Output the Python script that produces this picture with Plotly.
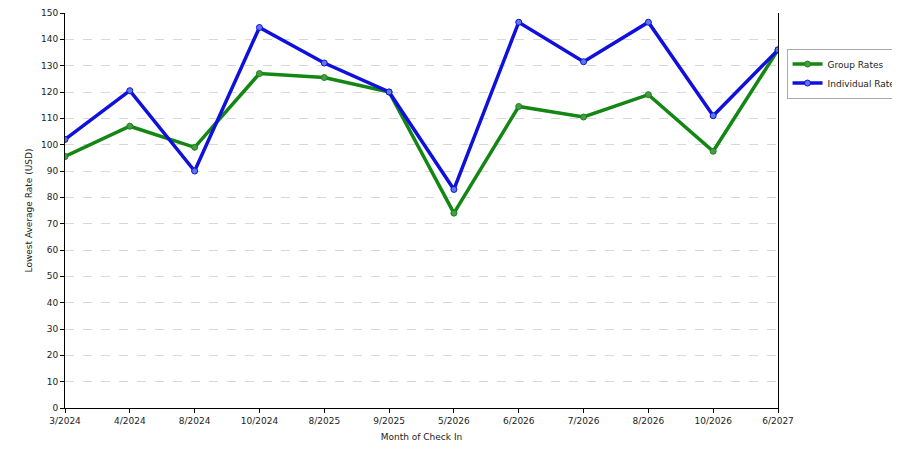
import plotly.graph_objects as go

months = ["3/2024","4/2024","8/2024","10/2024","8/2025","9/2025","5/2026","6/2026","7/2026","8/2026","10/2026","6/2027"]
group_rates = [95.5,107,99,127,125.5,120,74,114.5,110.5,119,97.5,136]
individual_rates = [102,120.5,90,144.5,131,120,83,146.5,131.5,146.5,111,136]

fig = go.Figure()
fig.add_trace(go.Scatter(x=months, y=group_rates, name="Group Rates", mode="lines+markers",
    line=dict(color="#138613", width=3.5),
    marker=dict(size=6, color="#4a9a4a", line=dict(color="#138613", width=1))))
fig.add_trace(go.Scatter(x=months, y=individual_rates, name="Individual Rates", mode="lines+markers",
    line=dict(color="#1010dd", width=3.5),
    marker=dict(size=6, color="#5a7ae6", line=dict(color="#1010dd", width=1))))

fig.update_layout(
    width=900, height=450, paper_bgcolor="white", plot_bgcolor="white",
    margin=dict(l=57, r=130, t=5, b=50, autoexpand=False),
    font=dict(family="DejaVu Sans", size=9, color="#222"),
    legend=dict(x=1.012, y=0.91, xanchor="left", yanchor="top", bordercolor="#aaa", borderwidth=1,
                font=dict(size=9), itemwidth=30, traceorder="normal"),
    xaxis=dict(title=dict(text="Month of Check In", font=dict(size=9), standoff=8),
               type="category", range=[0, 11], showline=True, linecolor="black", linewidth=1,
               ticks="outside", ticklen=4, tickcolor="black", showgrid=False, mirror=False,
               automargin=False),
    yaxis=dict(title=dict(text="Lowest Average Rate (USD)", font=dict(size=9), standoff=6),
               range=[0, 150], dtick=10, showline=True, linecolor="black", linewidth=1,
               ticks="outside", ticklen=4, tickcolor="black", mirror=True, automargin=False,
               showgrid=True, gridcolor="#d8d8d8", griddash="dash", zeroline=False),
)
fig.write_html("out.html")
